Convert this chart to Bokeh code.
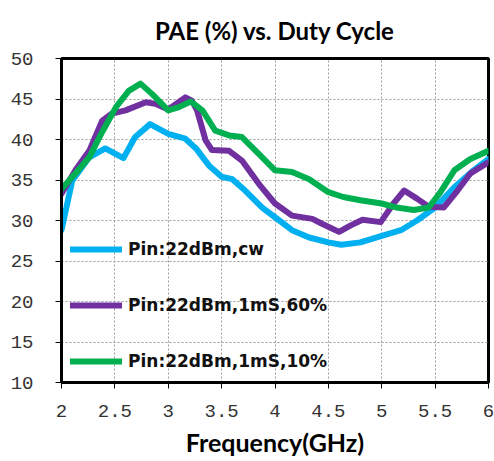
from bokeh.plotting import figure
from bokeh.models import Legend, LegendItem, FixedTicker, Range1d, Title
from bokeh.embed import file_html
from bokeh.resources import INLINE

# Data
cw_x = [2.0, 2.1, 2.26, 2.41, 2.58, 2.69, 2.83, 3.0, 3.16, 3.26, 3.38, 3.5, 3.6, 3.72,
        3.88, 4.0, 4.16, 4.32, 4.5, 4.62, 4.8, 5.0, 5.18, 5.33, 5.5, 5.68, 5.86, 6.0]
cw_y = [28.8, 34.9, 37.8, 38.9, 37.7, 40.3, 41.9, 40.7, 40.1, 38.9, 36.8, 35.4, 35.1, 33.7,
        31.6, 30.4, 28.8, 27.9, 27.3, 27.0, 27.3, 28.1, 28.8, 30.0, 31.6, 34.1, 36.2, 37.6]

d60_x = [2.0, 2.13, 2.26, 2.38, 2.47, 2.6, 2.79, 2.88, 3.0, 3.16, 3.22, 3.27, 3.35, 3.41,
         3.57, 3.69, 3.85, 4.0, 4.16, 4.35, 4.44, 4.6, 4.71, 4.82, 4.99, 5.11, 5.21, 5.33,
         5.44, 5.58, 5.71, 5.83, 6.0]
d60_y = [33.3, 36.2, 38.6, 42.3, 43.2, 43.6, 44.6, 44.4, 43.7, 45.2, 44.8, 43.6, 39.9, 38.7,
         38.6, 37.4, 34.5, 32.1, 30.6, 30.2, 29.6, 28.6, 29.4, 30.1, 29.8, 32.1, 33.7, 32.7,
         31.7, 31.6, 33.7, 35.8, 37.2]

d10_x = [2.0, 2.13, 2.26, 2.38, 2.51, 2.63, 2.74, 2.85, 3.0, 3.1, 3.21, 3.32, 3.44, 3.57,
         3.69, 3.85, 4.0, 4.16, 4.32, 4.5, 4.64, 4.8, 5.0, 5.14, 5.3, 5.44, 5.55, 5.68,
         5.83, 6.0]
d10_y = [33.9, 35.8, 37.8, 40.9, 44.0, 46.0, 46.9, 45.6, 43.6, 44.0, 44.7, 43.6, 41.1, 40.5,
         40.3, 38.2, 36.2, 36.0, 35.1, 33.5, 32.9, 32.5, 32.1, 31.6, 31.3, 31.6, 33.5, 36.2,
         37.6, 38.6]

labels = ["Pin:22dBm,cw", "Pin:22dBm,1mS,60%", "Pin:22dBm,1mS,10%"]
colors = ["#00B0F0", "#7030A0", "#00B050"]
x_ticks = [2, 2.5, 3, 3.5, 4, 4.5, 5, 5.5, 6]
y_ticks = [10, 15, 20, 25, 30, 35, 40, 45, 50]
title_text = "PAE (%) vs. Duty Cycle"
xlabel_text = "Frequency(GHz)"

p = figure(width=494, height=461, output_backend="svg", toolbar_location=None,
           x_range=Range1d(2, 6), y_range=Range1d(10, 50),
           min_border_left=61, min_border_right=6, min_border_top=57, min_border_bottom=79)

p.title = Title(text=title_text, align="center", offset=8, text_font="Lato",
                text_font_size="24px", text_font_style="bold", text_color="black", standoff=27)

p.outline_line_color = "black"
p.outline_line_width = 3

p.axis.axis_line_width = 3
p.axis.axis_line_color = "black"
p.axis.major_tick_line_color = "black"
p.axis.major_tick_line_width = 1
p.axis.major_tick_in = 0
p.axis.major_tick_out = 6
p.axis.minor_tick_line_color = None
p.axis.major_label_text_font = "Liberation Mono"
p.axis.major_label_text_font_size = "19px"
p.axis.major_label_text_color = "#333333"

p.xaxis.ticker = FixedTicker(ticks=x_ticks)
p.yaxis.ticker = FixedTicker(ticks=y_ticks)
p.yaxis.major_label_standoff = 22
p.xaxis.major_label_standoff = 16
p.xaxis.axis_label = xlabel_text
p.xaxis.axis_label_text_font = "Lato"
p.xaxis.axis_label_text_font_style = "bold"
p.xaxis.axis_label_text_font_size = "25px"
p.xaxis.axis_label_text_color = "black"
p.xaxis.axis_label_standoff = 7

p.xgrid.ticker = FixedTicker(ticks=x_ticks)
p.ygrid.ticker = FixedTicker(ticks=y_ticks)
p.grid.grid_line_color = "#9a9a9a"
p.grid.grid_line_dash = "2 2"
p.grid.grid_line_width = 1

r1 = p.line(cw_x, cw_y, line_color=colors[0], line_width=6, line_join="round", line_cap="round")
r2 = p.line(d60_x, d60_y, line_color=colors[1], line_width=6, line_join="round", line_cap="round")
r3 = p.line(d10_x, d10_y, line_color=colors[2], line_width=6, line_join="round", line_cap="round")

legend = Legend(items=[LegendItem(label=labels[0], renderers=[r1]),
                       LegendItem(label=labels[1], renderers=[r2]),
                       LegendItem(label=labels[2], renderers=[r3])],
                location=(9, 11), orientation="vertical",
                background_fill_alpha=0, border_line_color=None,
                padding=0, margin=0, spacing=36,
                glyph_width=52, glyph_height=20, label_height=20, label_standoff=6,
                label_text_font="DejaVu Sans", label_text_font_style="bold",
                label_text_font_size="17px", label_text_color="#111111")
p.add_layout(legend, "center")

open("out.html", "w").write(file_html(p, INLINE))
